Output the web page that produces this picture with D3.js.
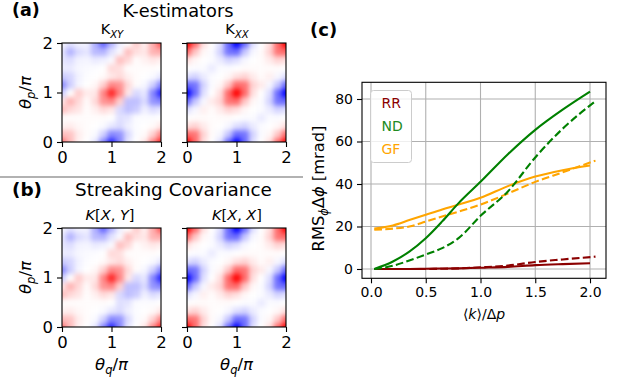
<!DOCTYPE html>
<html><head><meta charset="utf-8">
<script src="https://cdn.jsdelivr.net/npm/d3@7"></script>
<style>body{margin:0;background:#fff} svg{display:block} text{font-family:"DejaVu Sans",sans-serif;fill:#000}</style>
</head><body><svg id="c" width="618" height="381"></svg>
<script>
// ---------- data ----------
const thetaGrid = [0, 0.1667, 0.3333, 0.5, 0.6667, 0.8333, 1, 1.1667, 1.3333, 1.5, 1.6667, 1.8333, 2];
// rows: theta_p from 0 (first row) to 2 (last row); columns: theta_q from 0 to 2
const kXY = [
  [ .55, .26, .05, 0,-.09,-.47,-.85,-.47,-.09, 0, .09, .47, .85],
  [ .26, .23, .07, .01,-.02,-.18,-.47,-.42,-.14,-.01, .02, .18, .47],
  [ .05, .07, .03, .01, 0,-.02,-.09,-.14,-.06,-.01, 0, .02, .09],
  [ .01, .01, .01, .01, .01, .01, 0,-.12,-.10,-.01,-.01,-.01, 0],
  [ .25, .15, .10, .01, .06, .14, .09,-.15,-.25,-.20,-.06,-.14,-.09],
  [ .10, .30, .15, .02, .14, .42, .47, .18,-.25,-.25,-.14,-.42,-.47],
  [-.19, 0, .20, .08, .09, .47, .85, .47, .09,-.15,-.09,-.47,-.85],
  [-.45,-.19,-.04, 0, .03, .18, .47, .42, .14, .01,-.03,-.18,-.47],
  [-.20,-.16,-.05,-.01, 0, .02, .09, .14, .06, .01, 0,-.02,-.09],
  [-.07,-.08,-.03,-.02,-.01, 0, .15, .12, .01, .01, .01, .01, 0],
  [-.10,-.13,-.05,-.04,-.08,-.06,-.02, .25, .15, .01, .05, .09, .06],
  [-.10,-.30,-.14,-.10,-.27,-.29,-.11,-.02, .25, .12, .09, .30, .32],
  [-.04,-.11,-.05,-.05,-.31,-.60,-.29,-.06, 0, .20, .06, .32, .65]
];
const kXX = [
  [ 1, .58, .12, 0,-.12,-.58,-1,-.58,-.12, 0, .12, .58, 1],
  [ .58, .54, .17, .015,-.03,-.22,-.58,-.54,-.17,-.015, .03, .22, .58],
  [ .12, .17, .08, .015, 0,-.03,-.12,-.17,-.08,-.015, 0, .03, .12],
  [ 0, .015, .015, .01, .015, .015, 0,-.015,-.015,-.08,-.015,-.015, 0],
  [-.12,-.03, .06, .015, .08, .17, .12, .03, 0,-.015,-.08,-.17,-.12],
  [-.58,-.22,-.03, .08, .17, .54, .58, .22, .03,-.015,-.17,-.54,-.58],
  [-1,-.58,-.12, 0, .12, .58, 1, .58, .12, 0,-.12,-.58,-1],
  [-.58,-.54,-.17,-.015, .03, .22, .58, .54, .17, .08,-.03,-.22,-.58],
  [-.12,-.17,-.08,-.015, 0, .03, .12, .17, .08, .015, .06,-.03,-.12],
  [ 0,-.015,-.015,-.08,-.015,-.015, 0, .015, .015, .01, .015, .015, 0],
  [ .12, .03, 0,-.015,-.08,-.17,-.12,-.03, 0, .015, .08, .17, .12],
  [ .58, .22, .03,-.015,-.17,-.54,-.58,-.22,-.03, .015, .17, .54, .58],
  [ 1, .58, .12, 0,-.12,-.58,-1,-.58,-.12, 0, .12, .58, 1]
];
const heatTicks = [0, 1, 2];

const xSolid  = [0.03, 0.2, 0.35, 0.5, 0.65, 0.8, 1.0, 1.25, 1.5, 1.75, 2.0];
const xDashed = [0.03, 0.2, 0.35, 0.5, 0.65, 0.8, 1.0, 1.25, 1.5, 1.75, 2.05];
const rrSolid  = [0, 0, 0, 0.1, 0.2, 0.3, 0.6, 1.0, 1.8, 2.3, 2.7];
const rrDashed = [0, 0, 0, 0, 0.1, 0.3, 0.8, 1.6, 3.3, 4.5, 5.8];
const ndSolid  = [0, 3.5, 8.2, 14.5, 22.4, 31, 41, 54, 65.5, 75, 83.5];
const ndDashed = [0, 1.5, 4, 6.8, 9.8, 14.5, 25, 36.5, 52.5, 66, 79];
const gfSolid  = [19, 20.5, 23, 25.5, 28, 30.3, 33.5, 39, 43.5, 46.5, 48.7];
const gfDashed = [18.5, 19, 20, 22.3, 24.7, 27, 30.3, 35.5, 41, 45.5, 51];
const lineXTicks = [0, 0.5, 1, 1.5, 2];
const lineYTicks = [0, 20, 40, 60, 80];
const legendLabels = ["RR", "ND", "GF"];

// ---------- drawing ----------
const svg = d3.select("#c");
const defs = svg.append("defs");
defs.append("filter").attr("id","blur").attr("x","-20%").attr("y","-20%").attr("width","140%").attr("height","140%")
  .attr("color-interpolation-filters","sRGB")
  .append("feGaussianBlur").attr("stdDeviation", 2.8);

function bwr(v){
  v = Math.max(-1, Math.min(1, v));
  if (v < 0){ const t = Math.round(255*(1+v)); return `rgb(${t},${t},255)`; }
  const t = Math.round(255*(1-v)); return `rgb(255,${t},${t})`;
}

function mtext(g, x, y, parts, o){
  const t = g.append("text").attr("x",x).attr("y",y).attr("font-size",o.size)
    .attr("text-anchor", o.anchor || "middle");
  if (o.rotate) t.attr("transform", `rotate(-90,${x},${y})`);
  if (o.weight) t.attr("font-weight", o.weight);
  if (o.fill) t.style("fill", o.fill);
  let shifted = 0;
  parts.forEach(p => {
    const s = t.append("tspan").text(p.t);
    if (p.it) s.attr("font-style","italic");
    const target = p.sub ? o.size*0.25 : 0;
    if (target !== shifted){ s.attr("dy", target - shifted); shifted = target; }
    if (p.sub) s.attr("font-size", o.size*0.7);
  });
  return t;
}

let clipId = 0;
function heatmap(x0, y0, size, data, showY){
  const xs = d3.scaleLinear().domain([0,2]).range([x0, x0+size]);
  const ys = d3.scaleLinear().domain([0,2]).range([y0+size, y0]);
  const id = "clip" + (clipId++);
  defs.append("clipPath").attr("id", id).append("rect")
    .attr("x", x0).attr("y", y0).attr("width", size).attr("height", size);
  const outer = svg.append("g").attr("clip-path", `url(#${id})`);
  const inner = outer.append("g").attr("filter","url(#blur)");
  const n = thetaGrid.length, h = (thetaGrid[1]-thetaGrid[0])/2;
  const lo = k => k === 0 ? -0.6 : thetaGrid[k]-h;
  const hi = k => k === n-1 ? 2.6 : thetaGrid[k]+h;
  const cells = [];
  data.forEach((row, j) => row.forEach((v, i) => cells.push({i, j, v})));
  inner.selectAll("rect").data(cells).join("rect")
    .attr("x", d => xs(lo(d.i)))
    .attr("width", d => xs(hi(d.i)) - xs(lo(d.i)) + 0.6)
    .attr("y", d => ys(hi(d.j)))
    .attr("height", d => ys(lo(d.j)) - ys(hi(d.j)) + 0.6)
    .attr("fill", d => bwr(d.v));
  svg.append("rect").attr("x", x0).attr("y", y0).attr("width", size).attr("height", size)
    .attr("fill","none").attr("stroke","#000").attr("stroke-width",1.1);
  const ax = svg.append("g").attr("transform",`translate(0,${y0+size})`)
    .call(d3.axisBottom(xs).tickValues(heatTicks).tickSize(5).tickPadding(4).tickFormat(d3.format("d")));
  const ay = svg.append("g").attr("transform",`translate(${x0},0)`)
    .call(d3.axisLeft(ys).tickValues(heatTicks).tickSize(5).tickPadding(4).tickFormat(showY ? d3.format("d") : ""));
  [ax, ay].forEach(a => {
    a.select(".domain").remove();
    a.selectAll("line").attr("stroke","#000").attr("stroke-width",1.1);
    a.selectAll("text").attr("font-size", 16.5).attr("font-family","DejaVu Sans").style("fill","#000");
  });
}

// top row (a)
heatmap(62, 43, 99, kXY, true);
heatmap(187, 43, 99, kXX, false);
// bottom row (b)
heatmap(62, 228, 99, kXY, true);
heatmap(187, 228, 99, kXX, false);

// titles & labels left
mtext(svg, 12, 16, [{t:"(a)"}], {size:17.5, anchor:"start", weight:"bold"});
mtext(svg, 178, 16.5, [{t:"K-estimators"}], {size:17.8});
mtext(svg, 112, 34, [{t:"K"},{t:"XY", it:true, sub:true}], {size:14.5});
mtext(svg, 237, 34, [{t:"K"},{t:"XX", it:true, sub:true}], {size:14.5});
svg.append("line").attr("x1",0).attr("x2",303).attr("y1",177).attr("y2",177)
  .attr("stroke","#999").attr("stroke-width",1.5);
mtext(svg, 12, 196, [{t:"(b)"}], {size:18.4, anchor:"start", weight:"bold"});
mtext(svg, 173.5, 196, [{t:"Streaking Covariance"}], {size:18.4});
mtext(svg, 110, 220, [{t:"K",it:true},{t:"["},{t:"X",it:true},{t:", "},{t:"Y",it:true},{t:"]"}], {size:14.5});
mtext(svg, 237, 220, [{t:"K",it:true},{t:"["},{t:"X",it:true},{t:", "},{t:"X",it:true},{t:"]"}], {size:14.5});
[92.5, 277.5].forEach(cy => mtext(svg, 31, cy, [{t:"θ",it:true},{t:"p",it:true,sub:true},{t:"/"},{t:"π",it:true}], {size:16.5, rotate:true}));
[111.5, 236.5].forEach(cx => mtext(svg, cx, 370, [{t:"θ",it:true},{t:"q",it:true,sub:true},{t:"/"},{t:"π",it:true}], {size:16.5}));

// ---------- panel (c) ----------
const X = d3.scaleLinear().domain([-0.0822, 2.146]).range([362, 606]);
const Y = d3.scaleLinear().domain([-4.38, 87.86]).range([278.3, 82.3]);
const pg = svg.append("g");
pg.selectAll(".gx").data(lineXTicks).join("line").attr("x1",d=>X(d)).attr("x2",d=>X(d))
  .attr("y1",Y.range()[0]).attr("y2",Y.range()[1]).attr("stroke","#b0b0b0").attr("stroke-width",1.1);
pg.selectAll(".gy").data(lineYTicks).join("line").attr("y1",d=>Y(d)).attr("y2",d=>Y(d))
  .attr("x1",X.range()[0]).attr("x2",X.range()[1]).attr("stroke","#b0b0b0").attr("stroke-width",1.1);

const line = d3.line().x(d=>X(d[0])).y(d=>Y(d[1])).curve(d3.curveMonotoneX);
const series = [
  {x:xSolid, y:rrSolid, c:"#8b0000", dash:null},
  {x:xDashed, y:rrDashed, c:"#8b0000", dash:"7.7,3.3"},
  {x:xSolid, y:gfSolid, c:"#ffa500", dash:null},
  {x:xDashed, y:gfDashed, c:"#ffa500", dash:"7.7,3.3"},
  {x:xSolid, y:ndSolid, c:"#008000", dash:null},
  {x:xDashed, y:ndDashed, c:"#008000", dash:"7.7,3.3"}
];
defs.append("clipPath").attr("id","clipc").append("rect")
  .attr("x",362).attr("y",82.3).attr("width",244).attr("height",196);
const lg = pg.append("g").attr("clip-path","url(#clipc)");
series.forEach(s => {
  lg.append("path").attr("d", line(s.x.map((v,i)=>[v, s.y[i]])))
    .attr("fill","none").attr("stroke", s.c).attr("stroke-width",2.1)
    .attr("stroke-dasharray", s.dash).attr("stroke-linecap", "butt");
});
pg.append("rect").attr("x",362).attr("y",82.3).attr("width",244).attr("height",196)
  .attr("fill","none").attr("stroke","#000").attr("stroke-width",1.1);
const axc = pg.append("g").attr("transform","translate(0,278.3)")
  .call(d3.axisBottom(X).tickValues(lineXTicks).tickSize(5).tickPadding(4).tickFormat(d3.format(".1f")));
const ayc = pg.append("g").attr("transform","translate(362,0)")
  .call(d3.axisLeft(Y).tickValues(lineYTicks).tickSize(5).tickPadding(4).tickFormat(d3.format("d")));
[axc, ayc].forEach(a => {
  a.select(".domain").remove();
  a.selectAll("line").attr("stroke","#000").attr("stroke-width",1.1);
  a.selectAll("text").attr("font-size",14).attr("font-family","DejaVu Sans").style("fill","#000");
});

// legend
const legColors = ["#8b0000", "#228b22", "#ffa500"];
pg.append("rect").attr("x",370.5).attr("y",90.5).attr("width",41).attr("height",72).attr("rx",3)
  .attr("fill","#fff").attr("fill-opacity",0.8).attr("stroke","#cccccc").attr("stroke-width",1);
legendLabels.forEach((l,i) => {
  pg.append("text").attr("x",381.5).attr("y",108.3 + i*22.85).attr("font-size",14)
    .style("fill", legColors[i]).text(l);
});

mtext(svg, 310, 36, [{t:"(c)"}], {size:18, anchor:"start", weight:"bold"});
mtext(svg, 484, 319, [{t:"⟨"},{t:"k",it:true},{t:"⟩/Δ"},{t:"p",it:true}], {size:14});
mtext(svg, 324, 188.5, [{t:"RMS"},{t:"ϕ",it:true,sub:true},{t:"Δ"},{t:"ϕ",it:true},{t:" [mrad]"}], {size:16.3, rotate:true});
</script></body></html>
